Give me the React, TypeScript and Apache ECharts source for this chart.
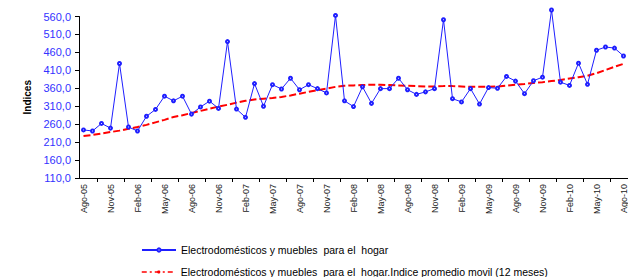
import React, { useEffect, useRef } from "react";
import * as echarts from "echarts";

const categories = [
  "Ago-05","Sep-05","Oct-05","Nov-05","Dic-05","Ene-06","Feb-06","Mar-06","Abr-06","May-06","Jun-06","Jul-06",
  "Ago-06","Sep-06","Oct-06","Nov-06","Dic-06","Ene-07","Feb-07","Mar-07","Abr-07","May-07","Jun-07","Jul-07",
  "Ago-07","Sep-07","Oct-07","Nov-07","Dic-07","Ene-08","Feb-08","Mar-08","Abr-08","May-08","Jun-08","Jul-08",
  "Ago-08","Sep-08","Oct-08","Nov-08","Dic-08","Ene-09","Feb-09","Mar-09","Abr-09","May-09","Jun-09","Jul-09",
  "Ago-09","Sep-09","Oct-09","Nov-09","Dic-09","Ene-10","Feb-10","Mar-10","Abr-10","May-10","Jun-10","Jul-10",
  "Ago-10",
];

const indexValues = [
  244, 241, 262, 249, 429, 252, 241, 282, 301, 338, 325, 338,
  288, 308, 324, 304, 490, 302, 279, 373, 310, 370, 358, 388,
  356, 370, 359, 347, 563, 325, 309, 364, 318, 359, 359, 388,
  356, 343, 350, 359, 551, 331, 322, 359, 316, 362, 360, 393,
  380, 345, 381, 391, 578, 377, 368, 430, 371, 466, 475, 472,
  450,
];

const movingAvg = [
  227, 230, 234, 238, 242, 247, 252, 258, 265, 272, 280, 285,
  291, 297, 303, 309, 314, 320, 325, 329, 331, 333, 336, 340,
  345, 350, 355, 359, 364, 367, 368, 369, 370, 370, 369, 368,
  367, 366, 365, 365, 366, 366, 365, 364, 364, 364, 365, 367,
  370, 372, 375, 377, 380, 383, 387, 391, 395, 402, 411, 420,
  428,
];

const seriesNames = [
  "Electrodomésticos y muebles  para el  hogar",
  "Electrodomésticos y muebles  para el  hogar.Indice promedio movil (12 meses)",
];

const yMin = 110;
const yMax = 560;
const yStep = 50;

const FONT = "'Liberation Sans', Arial, sans-serif";

const legendBase = {
  orient: "horizontal",
  left: 141,
  itemWidth: 34,
  itemHeight: 4,
  padding: 0,
  textStyle: { fontFamily: FONT, fontSize: 10.5, color: "#000" },
};

export default function App() {
  const ref = useRef<HTMLDivElement>(null);
  useEffect(() => {
    if (!ref.current) return;
    const chart = echarts.init(ref.current, undefined, { renderer: "svg" });
    chart.setOption({
      animation: false,
      backgroundColor: "#ffffff",
      grid: { left: 79, right: 0, top: 16.5, bottom: 99, containLabel: false },
      legend: [
        {
          ...legendBase,
          top: 244.5,
          data: [{ name: seriesNames[0], itemStyle: { color: "#1f1fff", borderWidth: 0 } }],
        },
        {
          ...legendBase,
          top: 266.5,
          data: [{ name: seriesNames[1], lineStyle: { type: [5, 3, 2, 3], width: 1.5 } }],
        },
      ],
      xAxis: {
        type: "category",
        data: categories,
        boundaryGap: true,
        axisLine: { lineStyle: { color: "#000", width: 1 } },
        axisTick: {
          show: true,
          interval: (i: number) => i % 3 === 2,
          length: 4,
          lineStyle: { color: "#000" },
        },
        axisLabel: {
          interval: 2,
          rotate: 90,
          fontSize: 9,
          fontFamily: FONT,
          color: "#222",
          margin: 6,
        },
        splitLine: { show: false },
      },
      yAxis: {
        type: "value",
        min: yMin,
        max: yMax,
        interval: yStep,
        name: "Indices",
        nameLocation: "middle",
        nameRotate: 90,
        nameGap: 41,
        nameTextStyle: { fontFamily: FONT, fontSize: 10, fontWeight: "bold", color: "#000" },
        axisLine: { show: true, lineStyle: { color: "#000", width: 1 } },
        axisTick: { show: true, length: 4, lineStyle: { color: "#000" } },
        axisLabel: {
          fontSize: 11,
          fontFamily: FONT,
          color: "#3333ff",
          margin: 8,
          formatter: (v: number) => v.toFixed(1).replace(".", ","),
        },
        splitLine: { show: false },
      },
      series: [
        {
          name: seriesNames[0],
          type: "line",
          data: indexValues,
          clip: false,
          symbol: "emptyCircle",
          symbolSize: 3,
          itemStyle: { color: "#1f1fff", borderWidth: 1 },
          lineStyle: { color: "#1f1fff", width: 1 },
          z: 3,
        },
        {
          name: seriesNames[1],
          type: "line",
          data: movingAvg,
          clip: false,
          symbol: "none",
          itemStyle: { color: "#ff0000" },
          lineStyle: { color: "#ff0000", width: 2, type: [7, 3] },
          z: 2,
        },
      ],
    });
    return () => chart.dispose();
  }, []);
  return <div ref={ref} style={{ width: 628, height: 277, position: "absolute", left: 0, top: 0 }} />;
}
